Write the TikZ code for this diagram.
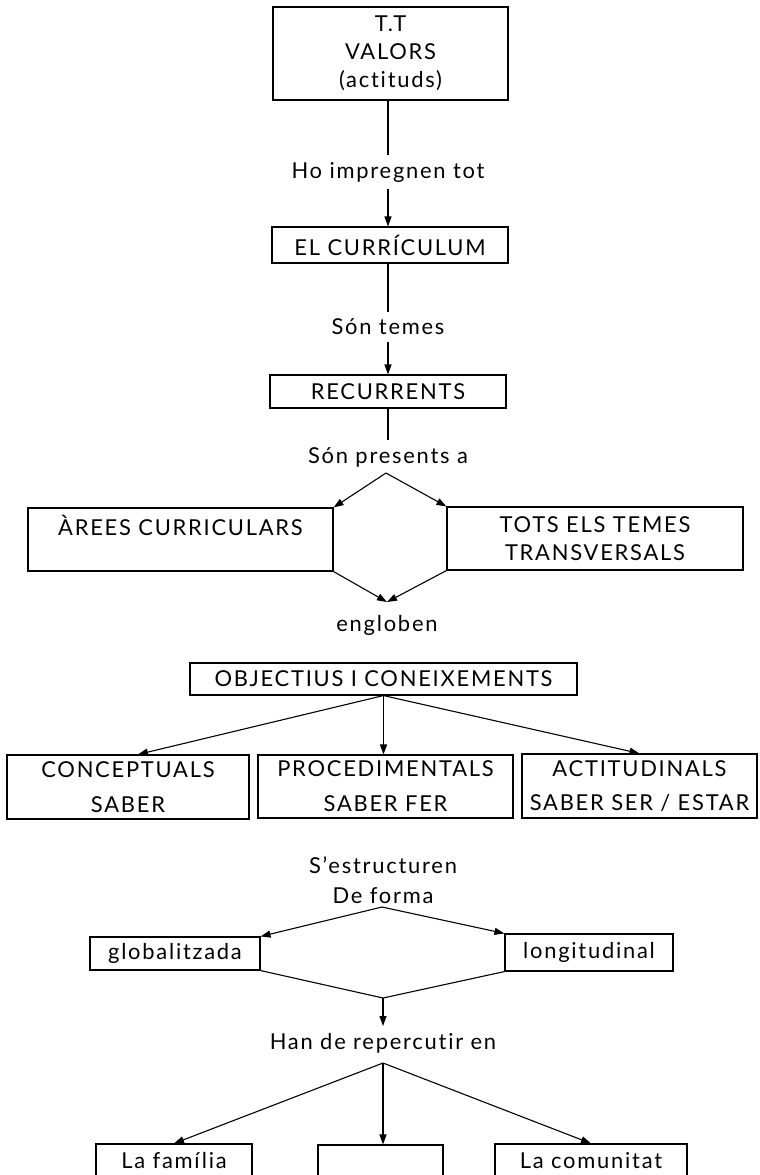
\documentclass[tikz,border=0pt]{standalone}
\usepackage{fontspec}
\setmainfont[LetterSpace=8,Ligatures=NoCommon]{Lato}
\usetikzlibrary{arrows.meta,calc}
\begin{document}
\begin{tikzpicture}[x=1bp,y=-1bp,
  every node/.append style={font=\fontsize{22}{28}\selectfont},
  box/.style={draw,line width=1.1bp,inner sep=0pt,align=center},
  lbl/.style={inner sep=0pt,outer sep=7bp,align=center},
  ln/.style={line width=1.1bp},
  arr/.style={-{Triangle[length=10bp,width=7bp]}}
]
\useasboundingbox (0,0) rectangle (760,1175);
\clip (0,0) rectangle (760,1175);

% top column
\node[box,minimum width=235bp,minimum height=93bp] (tt) at (390.5,53.5) {T.T\\VALORS\\(actituds)};
\node[lbl] (l1) at (388,172) {Ho impregnen tot};
\node[box,minimum width=236bp,minimum height=36bp] (cur) at (390,245) {EL CURRÍCULUM};
\node[lbl] (l2) at (388,327) {Són temes};
\node[box,minimum width=236bp,minimum height=33bp] (rec) at (388,391.5) {RECURRENTS};
\node[lbl] (l3) at (388,457) {Són presents a};

\draw[ln] (tt.south -| l1.north) -- (l1.north);
\draw[ln,arr] (l1.south) -- (l1.south |- cur.north);
\draw[ln] (cur.south -| l2.north) -- (l2.north);
\draw[ln,arr] (l2.south) -- (l2.south |- rec.north);
\draw[ln] (rec.south -| l3.north) -- (l3.north);

% hexagon
\node[box,minimum width=305bp,minimum height=63bp] (are) at (180.5,539.5) {ÀREES CURRICULARS\\\mbox{}};
\node[box,minimum width=296bp,minimum height=63bp] (tots) at (595,538.5) {TOTS ELS TEMES\\TRANSVERSALS};
\coordinate (h1) at (386,473);
\coordinate (h2) at (387,602);
\draw[ln,arr] (h1) -- (are.north east);
\draw[ln,arr] (h1) -- (tots.north west);
\draw[ln,arr] (are.south east) -- (h2);
\draw[ln,arr] (tots.south west) -- (h2);
\node[lbl] (l4) at (387,625) {engloben};

% objectius
\node[box,minimum width=387bp,minimum height=32bp] (obj) at (383.5,679) {OBJECTIUS I CONEIXEMENTS};
\node[box,minimum width=242bp,minimum height=64bp] (con) at (128,787) {CONCEPTUALS\\[7bp]SABER};
\node[box,minimum width=255bp,minimum height=63bp] (pro) at (385.5,786.5) {PROCEDIMENTALS\\[7bp]SABER FER};
\node[box,minimum width=235bp,minimum height=64bp] (act) at (639.5,786) {ACTITUDINALS\\[7bp]SABER SER / ESTAR};
\draw[ln,arr] (obj.south) -- ([xshift=10bp]con.north);
\draw[ln,arr] (obj.south) -- (obj.south |- pro.north);
\draw[ln,arr] (obj.south) -- (act.north);

% estructuren
\node[lbl] (l5) at (383,880) {S{\char"0027}estructuren\\[2bp]De forma};
\coordinate (h3) at (382,907);
\node[box,minimum width=170bp,minimum height=33bp] (glo) at (175,953.5) {globalitzada};
\node[box,minimum width=168bp,minimum height=37bp] (lon) at (589,952.5) {longitudinal};
\draw[ln,arr] (h3) -- (glo.north east);
\draw[ln,arr] (h3) -- (lon.north west);
\coordinate (h4) at (383,998);
\draw[ln] (glo.south east) -- (h4) -- (lon.south west);
\node[lbl] (l6) at (383,1043) {Han de repercutir en};
\draw[ln,arr] (h4) -- (l6.north);
\coordinate (h5) at (383,1063);

% bottom
\node[box,minimum width=156bp,minimum height=34bp] (fam) at (174,1161) {La família};
\node[box,minimum width=125bp,minimum height=34bp] (mid) at (380.5,1162) {};
\node[box,minimum width=192bp,minimum height=34bp] (com) at (591,1161) {La comunitat};
\draw[ln,arr] (h5) -- (fam.north);
\draw[ln,arr] (h5) -- (h5 |- mid.north);
\draw[ln,arr] (h5) -- (com.north);
\end{tikzpicture}
\end{document}
